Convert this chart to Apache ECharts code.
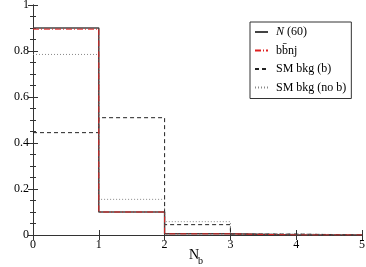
<!DOCTYPE html>
<html><head><meta charset="utf-8">
<script src="https://cdn.jsdelivr.net/npm/echarts@6/dist/echarts.min.js"></script>
<style>html,body{margin:0;padding:0;background:#fff}#c{width:366px;height:267px}</style>
</head><body><div id="c"></div>
<script>
// bin edges (N_b) and per-bin fractions
var binEdges = [0, 1, 2, 3, 4, 5];
var seriesNames = ['N (60)', 'bb\u0304nj', 'SM bkg (b)', 'SM bkg (no b)'];
var sig60 = [0.90, 0.10, 0.005, 0.0, 0.0];
var bbnj = [0.895, 0.10, 0.005, 0.0, 0.0];
var smB = [0.445, 0.51, 0.045, 0.004, 0.0];
var smNoB = [0.785, 0.155, 0.058, 0.005, 0.0];
var xTicks = [0, 1, 2, 3, 4, 5];
var yTicks = [0, 0.2, 0.4, 0.6, 0.8, 1];
var xTitle = 'N', xTitleSub = 'b', yTitle = 'Fraction of events';

function steps(vals) {
  var pts = [];
  for (var i = 0; i < vals.length; i++) pts.push([binEdges[i], vals[i]]);
  pts.push([binEdges[vals.length], vals[vals.length - 1]]);
  return pts;
}
var serif = 'Liberation Serif';
var chart = echarts.init(document.getElementById('c'));
function yLab(v) { return v === 0 ? '0' : (v === 1 ? '1' : String(Math.round(v * 10) / 10)); }
var axisCommon = {
  axisLine: { show: true, lineStyle: { color: '#333', width: 1 } },
  splitLine: { show: false }
};
chart.setOption({
  animation: false,
  grid: { left: 33, right: 4, top: 5, bottom: 32, containLabel: false, outerBoundsMode: 'none' },
  graphic: [
    { type: 'text', left: 189, top: 248, style: { text: xTitle, fontFamily: serif, fontSize: 14, fill: '#000' } },
    { type: 'text', left: 198, top: 256, style: { text: xTitleSub, fontFamily: serif, fontSize: 10, fill: '#000' } }
  ],
  xAxis: [
    Object.assign({ type: 'value', min: 0, max: 5, interval: 1, position: 'bottom',
      axisTick: { inside: true, length: 5, lineStyle: { color: '#333' } },
      axisLabel: { fontFamily: serif, fontSize: 12, color: '#000', margin: 4 }
    }, axisCommon),
    Object.assign({ type: 'value', min: 0, max: 5, interval: 1, position: 'top',
      axisTick: { inside: true, length: 5, lineStyle: { color: '#333' } },
      axisLabel: { show: false } }, axisCommon)
  ],
  yAxis: [
    Object.assign({ type: 'value', min: 0, max: 1, interval: 0.2, position: 'left',
      axisTick: { inside: true, length: 5, lineStyle: { color: '#333' } },
      minorTick: { show: true, splitNumber: 4, length: 3, lineStyle: { color: '#333' } },
      axisLabel: { fontFamily: serif, fontSize: 12, color: '#000', margin: 4, formatter: yLab },
      name: yTitle, nameLocation: 'middle', nameGap: 25,
      nameTextStyle: { fontFamily: serif, fontSize: 14, color: '#000' }
    }, axisCommon),
    Object.assign({ type: 'value', min: 0, max: 1, interval: 0.2, position: 'right',
      axisTick: { inside: true, length: 5, lineStyle: { color: '#333' } },
      minorTick: { show: true, splitNumber: 4, length: 3, lineStyle: { color: '#333' } },
      axisLabel: { show: false } }, axisCommon)
  ],
  legend: {
    orient: 'vertical', left: 250, top: 22,
    padding: [4, 5, 5, 4], itemGap: 6.5, itemWidth: 13, itemHeight: 13,
    borderColor: '#333', borderWidth: 1,
    itemStyle: { opacity: 0 },
    data: seriesNames,
    formatter: function (n) { return n === 'N (60)' ? '{i|N} (60)' : n; },
    textStyle: { fontFamily: serif, fontSize: 12, color: '#000', padding: [0, 0, 0, 3],
      rich: { i: { fontFamily: serif, fontStyle: 'italic', fontSize: 12, color: '#000' } } }
  },
  series: [
    { name: seriesNames[3], type: 'line', step: 'end', showSymbol: false, symbol: 'none', data: steps(smNoB),
      lineStyle: { color: '#888', width: 1, type: [1, 2] }, itemStyle: { color: '#888' } },
    { name: seriesNames[2], type: 'line', step: 'end', showSymbol: false, symbol: 'none', data: steps(smB),
      lineStyle: { color: '#222', width: 1, type: [4, 3] }, itemStyle: { color: '#222' } },
    { name: seriesNames[0], type: 'line', step: 'end', showSymbol: false, symbol: 'none', data: steps(sig60),
      lineStyle: { color: '#444', width: 1.5 }, itemStyle: { color: '#444' } },
    { name: seriesNames[1], type: 'line', step: 'end', showSymbol: false, symbol: 'none', data: steps(bbnj),
      lineStyle: { color: '#e02020', width: 1, type: [6, 2, 1, 2] }, itemStyle: { color: '#e02020' } }
  ]
});
</script></body></html>
